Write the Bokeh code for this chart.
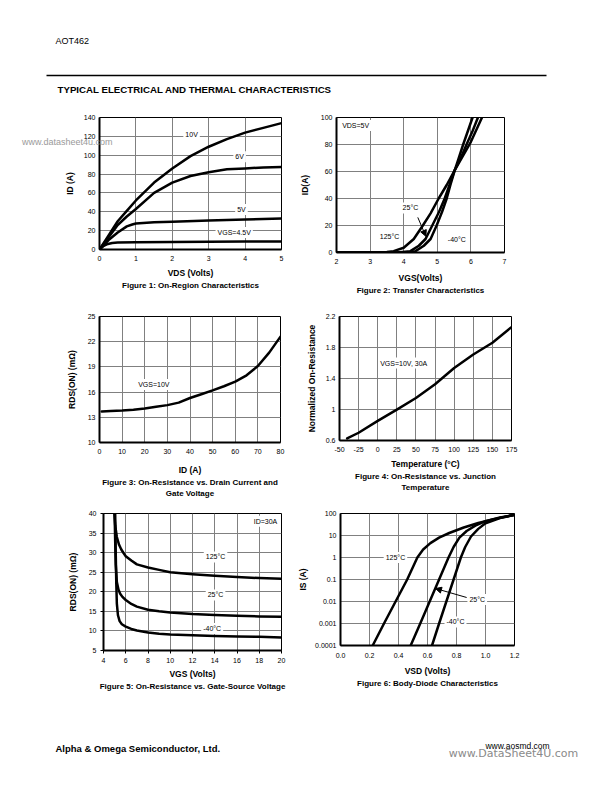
from bokeh.plotting import figure
from bokeh.models import (Range1d, FixedTicker, Label, Arrow, NormalHead, BoxAnnotation,
                          CustomJSTickFormatter, Title, LinearAxis)
from bokeh.layouts import column, row
from bokeh.embed import file_html
from bokeh.resources import INLINE

FONT = "Liberation Sans"

# ---------------- data ----------------
# Figure 1: On-Region Characteristics
fig1_xticks = [0, 1, 2, 3, 4, 5]
fig1_yticks = [0, 20, 40, 60, 80, 100, 120, 140]
fig1_vds_10v = [0, 0.25, 0.5, 0.75, 1, 1.5, 2, 2.5, 3, 3.5, 4, 4.5, 5]
fig1_id_10v = [0, 15, 30, 41, 52, 71, 86, 99, 109, 117, 124, 129, 134]
fig1_vds_6v = [0, 0.25, 0.5, 0.75, 1, 1.5, 2, 2.5, 3, 3.5, 4, 4.5, 5]
fig1_id_6v = [0, 13, 26, 35, 43, 60, 71, 78, 82, 85, 86, 87, 87.5]
fig1_vds_5v = [0, 0.25, 0.5, 0.75, 0.9, 1.0, 1.5, 2, 3, 4, 5]
fig1_id_5v = [0, 10, 18, 24.5, 26.5, 27.5, 28.8, 29.5, 30.8, 31.8, 33]
fig1_vds_45v = [0, 0.1, 0.2, 0.35, 0.5, 1, 2, 3, 4, 5]
fig1_id_45v = [0, 3.5, 5.5, 6.8, 7.3, 7.8, 8, 8.2, 8.4, 8.6]

# Figure 2: Transfer Characteristics
fig2_xticks = [2, 3, 4, 5, 6, 7]
fig2_yticks = [0, 20, 40, 60, 80, 100]
fig2_vgs_125 = [2.0, 3.2, 3.5, 3.7, 4.0, 4.3, 4.57, 4.8, 5.04, 5.28, 5.52, 5.75, 6.0, 6.33]
fig2_id_125 = [0, 0, 0.3, 1, 3.5, 10, 20, 29, 40, 50, 61, 71, 82, 100]
fig2_vgs_25 = [2.0, 3.8, 4.2, 4.45, 4.65, 4.85, 5.05, 5.22, 5.52, 5.7, 5.87, 6.05, 6.21]
fig2_id_25 = [0, 0, 1, 5, 10, 20, 30, 40, 61, 70, 80, 90, 100]
fig2_vgs_m40 = [2.0, 4.1, 4.35, 4.6, 4.8, 4.98, 5.14, 5.28, 5.39, 5.52, 5.64, 5.77, 5.91, 6.05]
fig2_id_m40 = [0, 0, 1, 5, 10, 20, 30, 40, 50, 61, 70, 80, 90, 100]

# Figure 3: On-Resistance vs. Drain Current
fig3_xticks = [0, 10, 20, 30, 40, 50, 60, 70, 80]
fig3_yticks = [10, 13, 16, 19, 22, 25]
fig3_id = [1, 5, 10, 15, 20, 25, 30, 35, 40, 45, 50, 55, 60, 65, 70, 75, 80]
fig3_rds = [13.7, 13.75, 13.8, 13.9, 14.05, 14.25, 14.45, 14.75, 15.3, 15.75, 16.2, 16.7,
            17.25, 18.0, 19.1, 20.7, 22.6]

# Figure 4: On-Resistance vs. Junction Temperature
fig4_xticks = [-50, -25, 0, 25, 50, 75, 100, 125, 150, 175]
fig4_yticks = [0.6, 1.0, 1.4, 1.8, 2.2]
fig4_temp = [-40, -25, 0, 25, 50, 75, 100, 125, 150, 175]
fig4_norm = [0.626, 0.70, 0.853, 0.999, 1.149, 1.325, 1.535, 1.71, 1.861, 2.063]

# Figure 5: On-Resistance vs. Gate-Source Voltage
fig5_xticks = [4, 6, 8, 10, 12, 14, 16, 18, 20]
fig5_yticks = [5, 10, 15, 20, 25, 30, 35, 40]
fig5_vgs_125 = [4.98, 5.05, 5.2, 5.4, 5.6, 5.8, 6, 6.5, 7, 8, 9, 10, 12, 14, 16, 18, 20]
fig5_rds_125 = [40, 37, 34, 32, 30.8, 29.9, 29.1, 28, 27, 26.2, 25.6, 25.0, 24.5, 24.1, 23.8, 23.5, 23.3]
fig5_vgs_25 = [5.0, 5.05, 5.1, 5.2, 5.35, 5.5, 5.7, 6, 6.5, 7, 8, 9, 10, 12, 14, 16, 18, 20]
fig5_rds_25 = [40, 33, 27, 22.5, 20.5, 19.5, 18.7, 17.9, 16.9, 16.2, 15.4, 15.0, 14.7, 14.3, 14.1, 13.9, 13.7, 13.6]
fig5_vgs_m40 = [5.05, 5.1, 5.15, 5.2, 5.3, 5.45, 5.65, 6, 6.5, 7, 8, 9, 10, 12, 14, 16, 18, 20]
fig5_rds_m40 = [40, 30, 22, 17, 14, 12.5, 11.7, 11.1, 10.5, 10.1, 9.6, 9.3, 9.1, 8.9, 8.7, 8.6, 8.5, 8.3]

# Figure 6: Body-Diode Characteristics
fig6_xticks = [0.0, 0.2, 0.4, 0.6, 0.8, 1.0, 1.2]
fig6_yticks = [0.0001, 0.001, 0.01, 0.1, 1, 10, 100]
fig6_vsd_125 = [0.222, 0.30, 0.38, 0.46, 0.53, 0.57, 0.62, 0.68, 0.75, 0.85, 0.95, 1.05, 1.2]
fig6_is_125 = [1e-4, 1e-3, 1e-2, 1e-1, 1, 2.3, 4.5, 8, 13, 23, 37, 54, 88]
fig6_vsd_25 = [0.484, 0.55, 0.615, 0.68, 0.745, 0.78, 0.82, 0.87, 0.93, 1.0, 1.1, 1.2]
fig6_is_25 = [1e-4, 1e-3, 1e-2, 0.1, 1, 3, 8, 16, 28, 45, 66, 87]
fig6_vsd_m40 = [0.631, 0.68, 0.73, 0.78, 0.83, 0.86, 0.9, 0.95, 1.0, 1.1, 1.2]
fig6_is_m40 = [1e-4, 1e-3, 1e-2, 0.1, 1, 3, 9, 20, 36, 62, 86]


# ---------------- helpers ----------------
def chart(xr, yr, fw, fh, bl, br, bt, bb, xticks, yticks, xlab, ylab,
          y_log=False, tick_out=0, xl_stand=6, yl_stand=6, x_std=6, y_std=4):
    p = figure(frame_width=fw, frame_height=fh,
               min_border_left=bl, min_border_right=br,
               min_border_top=bt, min_border_bottom=bb,
               x_range=Range1d(*xr), y_range=Range1d(*yr),
               y_axis_type="log" if y_log else "linear",
               output_backend="svg", toolbar_location=None)
    p.xaxis.ticker = FixedTicker(ticks=xticks)
    p.yaxis.ticker = FixedTicker(ticks=yticks)
    for ax in (p.xaxis[0], p.yaxis[0]):
        ax.axis_line_width = 2
        ax.axis_line_color = "black"
        ax.major_tick_out = tick_out
        ax.major_tick_in = 0
        ax.minor_tick_out = 0
        ax.minor_tick_in = 0
        ax.major_tick_line_color = "black"
        ax.major_label_text_font = FONT
        ax.major_label_text_font_size = "7px"
        ax.major_label_text_color = "black"
        ax.axis_label_text_font = FONT
        ax.axis_label_text_font_size = "8.5px"
        ax.axis_label_text_font_style = "bold"
        ax.axis_label_text_color = "black"
    p.xaxis.major_label_standoff = x_std
    p.yaxis.major_label_standoff = y_std
    p.xaxis.axis_label_standoff = xl_stand
    p.yaxis.axis_label_standoff = yl_stand
    p.xaxis.axis_label = xlab
    p.yaxis.axis_label = ylab
    p.grid.grid_line_color = "#808080"
    p.grid.grid_line_width = 1
    p.outline_line_color = "black"
    p.outline_line_width = 1
    p.outline_line_alpha = 1
    p.background_fill_color = "white"
    p.border_fill_color = "white"
    return p


def curve(p, xs, ys):
    p.line(xs, ys, line_color="black", line_width=2.5, line_join="round", line_cap="round")


def tag(p, x, y, text, align="center"):
    p.add_layout(Label(x=x, y=y, text=text, text_font=FONT, text_font_size="7px",
                       text_align=align, text_baseline="middle", text_color="black",
                       background_fill_color="white", padding=2))


def caption(p, text, standoff=0):
    p.add_layout(Title(text=text, align="center", text_font=FONT, text_font_size="8px",
                       text_font_style="bold", text_color="black", standoff=standoff,
                       text_line_height=0.85, vertical_align="top"),
                 "below")


def arrow(p, x0, y0, x1, y1):
    p.add_layout(Arrow(end=NormalHead(size=6, fill_color="black", line_color="black"),
                       x_start=x0, y_start=y0, x_end=x1, y_end=y1,
                       line_color="black", line_width=1))


def page_fig(height, top, y0, y1):
    f = figure(frame_width=596, frame_height=height, min_border_left=8, min_border_right=0,
               min_border_top=top, min_border_bottom=0,
               x_range=Range1d(8, 604), y_range=Range1d(y1, y0),
               x_axis_type=None, y_axis_type=None, outline_line_color=None,
               output_backend="svg", toolbar_location=None)
    return f


# ---------------- header ----------------
head = page_fig(92, 8, 8, 100)
head.add_layout(Label(x=55, y=40, text="AOT462", text_font=FONT, text_font_size="9px",
                      text_baseline="middle", text_color="black"))
head.add_layout(BoxAnnotation(left=46, right=546, top=74.25, bottom=75.75,
                              fill_color="black", fill_alpha=1, line_color=None))
head.add_layout(Label(x=57, y=89, text="TYPICAL ELECTRICAL AND THERMAL CHARACTERISTICS",
                      text_font=FONT, text_font_size="9.7px", text_font_style="bold",
                      text_baseline="middle", text_color="black"))

# ---------------- figure 1 ----------------
f1 = chart((0, 5), (0, 140), 182, 132, 99, 11, 17, 51, fig1_xticks, fig1_yticks,
           "VDS (Volts)", "ID (A)", xl_stand=4, yl_stand=6)
curve(f1, fig1_vds_10v, fig1_id_10v)
curve(f1, fig1_vds_6v, fig1_id_6v)
curve(f1, fig1_vds_5v, fig1_id_5v)
curve(f1, fig1_vds_45v, fig1_id_45v)
tag(f1, 2.53, 122, "10V")
tag(f1, 3.85, 98.5, "6V")
tag(f1, 3.9, 42.4, "5V")
tag(f1, 3.7, 18, "VGS=4.5V")
caption(f1, "Figure 1: On-Region Characteristics")
# scanned-page watermark, drawn as a label-only axis so it is not clipped to the frame
wm = LinearAxis(ticker=FixedTicker(ticks=[113.5]),
                major_label_overrides={113.5: "www.datasheet4u.com"},
                axis_line_color=None, major_tick_line_color=None, minor_tick_line_color=None,
                major_label_text_font=FONT, major_label_text_font_size="9px",
                major_label_text_color="#9a9a9a", major_label_standoff=-57)
f1.add_layout(wm, "left")

# ---------------- figure 2 ----------------
f2 = chart((2, 7), (0, 100), 168, 135, 44, 90, 17, 48, fig2_xticks, fig2_yticks,
           "VGS(Volts)", "ID(A)", xl_stand=6, yl_stand=8)
curve(f2, fig2_vgs_125, fig2_id_125)
curve(f2, fig2_vgs_25, fig2_id_25)
curve(f2, fig2_vgs_m40, fig2_id_m40)
tag(f2, 2.57, 94, "VDS=5V")
tag(f2, 4.2, 33, "25°C")
tag(f2, 3.58, 12, "125°C")
tag(f2, 5.58, 10, "-40°C")
arrow(f2, 4.42, 26, 4.66, 12)
caption(f2, "Figure 2: Transfer Characteristics")

# ---------------- figure 3 ----------------
f3 = chart((0, 80), (10, 25), 181, 126, 99, 12, 16, 60, fig3_xticks, fig3_yticks,
           "ID (A)", "RDS(ON) (mΩ)", xl_stand=8, yl_stand=8)
curve(f3, fig3_id, fig3_rds)
tag(f3, 24, 16.9, "VGS=10V")
caption(f3, "Figure 3: On-Resistance vs. Drain Current and")
caption(f3, "Gate Voltage")

# ---------------- figure 4 ----------------
f4 = chart((-50, 175), (0.6, 2.2), 172, 124, 47, 80, 16, 62, fig4_xticks, fig4_yticks,
           "Temperature (°C)", "Normalized On-Resistance", xl_stand=4, yl_stand=6)
f4.xaxis.formatter = CustomJSTickFormatter(code="return tick.toString()")
f4.yaxis.formatter = CustomJSTickFormatter(code="return (Math.round(tick*10)/10).toString()")
curve(f4, fig4_temp, fig4_norm)
tag(f4, 34, 1.6, "VGS=10V, 30A")
caption(f4, "Figure 4: On-Resistance vs. Junction")
caption(f4, "Temperature")

# ---------------- figure 5 ----------------
f5 = chart((4, 20), (5, 40), 178, 137, 103, 11, 11, 70, fig5_xticks, fig5_yticks,
           "VGS (Volts)", "RDS(ON) (mΩ)", tick_out=3, xl_stand=3, yl_stand=8, x_std=4)
curve(f5, fig5_vgs_125, fig5_rds_125)
curve(f5, fig5_vgs_25, fig5_rds_25)
curve(f5, fig5_vgs_m40, fig5_rds_m40)
tag(f5, 18.56, 38, "ID=30A")
tag(f5, 14.07, 28.9, "125°C")
tag(f5, 14.07, 19.2, "25°C")
tag(f5, 13.77, 10.6, "-40°C")
caption(f5, "Figure 5: On-Resistance vs. Gate-Source Voltage")

# ---------------- figure 6 ----------------
f6 = chart((0, 1.2), (0.0001, 100), 174, 132, 48, 80, 11, 75, fig6_xticks, fig6_yticks,
           "VSD (Volts)", "IS (A)", y_log=True, xl_stand=5, yl_stand=4, x_std=7)
f6.xaxis.formatter = CustomJSTickFormatter(code="return tick.toFixed(1)")
f6.yaxis.formatter = CustomJSTickFormatter(code="return tick.toString()")
curve(f6, fig6_vsd_125, fig6_is_125)
curve(f6, fig6_vsd_25, fig6_is_25)
curve(f6, fig6_vsd_m40, fig6_is_m40)
tag(f6, 0.379, 1.0, "125°C")
tag(f6, 0.943, 0.0123, "25°C")
tag(f6, 0.793, 0.00118, "-40°C")
arrow(f6, 0.87, 0.0152, 0.655, 0.039)
caption(f6, "Figure 6: Body-Diode Characteristics")

# ---------------- footer ----------------
foot = page_fig(64, 0, 720, 784)
foot.add_layout(Label(x=55, y=748, text="Alpha & Omega Semiconductor, Ltd.", text_font=FONT,
                      text_font_size="9.5px", text_font_style="bold", text_baseline="middle",
                      text_color="black"))
foot.add_layout(Label(x=517, y=745, text="www.aosmd.com", text_font=FONT, text_font_size="8.5px",
                      text_align="center", text_baseline="middle", text_color="black"))
foot.add_layout(Label(x=513, y=753, text="www.DataSheet4U.com", text_font="DejaVu Sans",
                      text_font_size="11px", text_align="center", text_baseline="middle",
                      text_color="#8a8a8a"))

page = column(head, row(f1, f2, spacing=0), row(f3, f4, spacing=0), row(f5, f6, spacing=0),
              foot, spacing=0)

open("out.html", "w").write(file_html(page, INLINE))
